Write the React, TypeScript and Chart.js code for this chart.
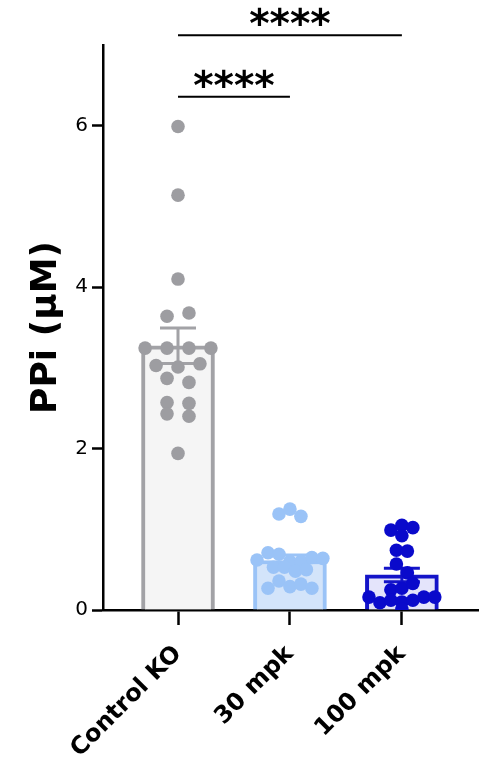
import React, { useEffect, useRef } from 'react';
import { Chart, registerables } from 'chart.js';

Chart.register(...registerables);

// ---- data ----
const categories = ['Control KO', '30 mpk', '100 mpk'];
// individual animals, listed row by row (top to bottom, left to right)
const controlKO = [5.99, 5.14, 4.10, 3.64, 3.68, 3.245, 3.245, 3.245, 3.245, 3.03, 3.01, 3.05, 2.87, 2.82, 2.57, 2.56, 2.43, 2.40, 1.94];
const mpk30 = [1.19, 1.25, 1.16, 0.62, 0.71, 0.69, 0.60, 0.60, 0.65, 0.64, 0.53, 0.53, 0.48, 0.50, 0.27, 0.36, 0.29, 0.32, 0.27];
const mpk100 = [0.99, 1.05, 1.02, 0.92, 0.74, 0.73, 0.57, 0.46, 0.25, 0.27, 0.33, 0.16, 0.09, 0.12, 0.10, 0.12, 0.16, 0.16, 0.01];
const yTickValues = [0, 2, 4, 6];
const sigPairs = [[0, 1], [0, 2]];
const sigHeights = [6.36, 7.12];
const sigLabels = ['****', '****'];

// ---- styles ----
const FONT = "'DejaVu Sans', 'Noto Sans', sans-serif";
const barFills = ['#f5f5f5', '#d3e4fa', '#e4e4fb'];
const barBorders = ['#a2a2a6', '#9ac3f7', '#1414c8'];
const pointColors = ['#9d9da1', '#9ac3f7', '#0a0acb'];
const swarmSpacing = [0.196, 0.098, 0.098]; // x-units between neighbours in a row
const ROW_RANGE = 0.12;

function swarm(values: number[], center: number, spacing: number) {
  const rows: number[][] = [];
  let cur: number[] = [];
  for (const v of values) {
    const test = [...cur, v];
    if (cur.length && Math.max(...test) - Math.min(...test) >= ROW_RANGE) {
      rows.push(cur);
      cur = [v];
    } else {
      cur = test;
    }
  }
  if (cur.length) rows.push(cur);
  const pts: { x: number; y: number }[] = [];
  rows.forEach((r) => {
    const n = r.length;
    r.forEach((v, k) => pts.push({ x: center + (k - (n - 1) / 2) * spacing, y: v }));
  });
  return pts;
}

const groups = [controlKO, mpk30, mpk100];
const means = groups.map((g) => g.reduce((a, b) => a + b, 0) / g.length);
const sems = groups.map((g, i) => {
  const sd = Math.sqrt(g.reduce((a, b) => a + (b - means[i]) ** 2, 0) / (g.length - 1));
  return sd / Math.sqrt(g.length);
});

const errorBarPlugin = {
  id: 'errorBars',
  afterDatasetDraw(chart: any, args: any) {
    if (args.index !== 0) return;
    const { ctx, scales } = chart;
    const x = scales.x;
    const y = scales.y;
    ctx.save();
    means.forEach((m, i) => {
      const px = x.getPixelForValue(i);
      const top = y.getPixelForValue(m + sems[i]);
      const bot = y.getPixelForValue(m - sems[i]);
      ctx.strokeStyle = barBorders[i];
      ctx.lineWidth = 3;
      ctx.beginPath();
      ctx.moveTo(px, top);
      ctx.lineTo(px, bot);
      ctx.moveTo(px - 18, top);
      ctx.lineTo(px + 18, top);
      ctx.moveTo(px - 18, bot);
      ctx.lineTo(px + 18, bot);
      ctx.stroke();
    });
    ctx.restore();
  },
};

const sigPlugin = {
  id: 'sig',
  afterDraw(chart: any) {
    const { ctx, scales } = chart;
    const x = scales.x;
    const y = scales.y;
    ctx.save();
    sigPairs.forEach(([a, b], i) => {
      const x1 = x.getPixelForValue(a);
      const x2 = x.getPixelForValue(b);
      const py = y.getPixelForValue(sigHeights[i]);
      ctx.strokeStyle = '#000';
      ctx.lineWidth = 2;
      ctx.beginPath();
      ctx.moveTo(x1, py);
      ctx.lineTo(x2, py);
      ctx.stroke();
      ctx.fillStyle = '#000';
      ctx.font = `bold 39px ${FONT}`;
      ctx.textAlign = 'center';
      ctx.textBaseline = 'alphabetic';
      ctx.fillText(sigLabels[i], (x1 + x2) / 2, py + 2);
    });
    ctx.restore();
  },
};

export default function App() {
  const canvasRef = useRef<HTMLCanvasElement | null>(null);

  useEffect(() => {
    if (!canvasRef.current) return;
    const chart = new Chart(canvasRef.current, {
      type: 'bar',
      data: {
        datasets: [
          {
            type: 'bar',
            data: means.map((m, i) => ({ x: i, y: m })),
            backgroundColor: barFills,
            borderColor: barBorders,
            borderWidth: 4,
            barThickness: 73,
            order: 2,
          } as any,
          ...groups.map((g, i) => ({
            type: 'scatter',
            data: swarm(g, i, swarmSpacing[i]),
            backgroundColor: pointColors[i],
            borderWidth: 0,
            pointRadius: 6.8,
            order: 1,
          })) as any,
        ],
      },
      options: {
        animation: false,
        responsive: false,
        layout: { autoPadding: false, padding: { left: 0, top: 45, right: 1, bottom: 0 } },
        plugins: { legend: { display: false }, tooltip: { enabled: false } },
        scales: {
          x: {
            type: 'linear',
            offset: false,
            min: -0.67,
            max: 2.68,
            afterBuildTicks: (s: any) => {
              s.ticks = categories.map((_, i) => ({ value: i }));
            },
            afterFit: (s: any) => {
              s.height = 149;
              s.paddingRight = 0;
              s.paddingLeft = 0;
            },
            ticks: {
              autoSkip: false,
              maxRotation: 45,
              minRotation: 45,
              padding: 15,
              color: '#000',
              font: { family: FONT, size: 24, weight: 'bold' },
              callback: (v: any) => categories[v as number] ?? '',
            },
            grid: { offset: false, drawOnChartArea: false, tickLength: 15, tickWidth: 2.5, tickColor: '#000' },
            border: { display: true, color: '#000', width: 2.5 },
          },
          y: {
            type: 'linear',
            min: 0,
            max: 7,
            afterBuildTicks: (s: any) => {
              s.ticks = yTickValues.map((v) => ({ value: v }));
            },
            afterFit: (s: any) => {
              s.width = 103;
            },
            ticks: {
              padding: 4,
              color: '#000',
              font: { family: FONT, size: 20 },
            },
            grid: { drawOnChartArea: false, tickLength: 11, tickWidth: 2.5, tickColor: '#000' },
            border: { display: true, color: '#000', width: 2.5 },
            title: {
              display: true,
              text: 'PPi (μM)',
              color: '#000',
              font: { family: FONT, size: 36, weight: 'bold' },
              padding: { top: 25, bottom: 0 },
            },
          },
        },
      } as any,
      plugins: [errorBarPlugin, sigPlugin],
    });
    return () => chart.destroy();
  }, []);

  return (
    <div style={{ position: 'fixed', left: 0, top: 0, width: 479, height: 759, background: '#fff' }}>
      <canvas ref={canvasRef} width={479} height={759} style={{ display: 'block' }} />
    </div>
  );
}
